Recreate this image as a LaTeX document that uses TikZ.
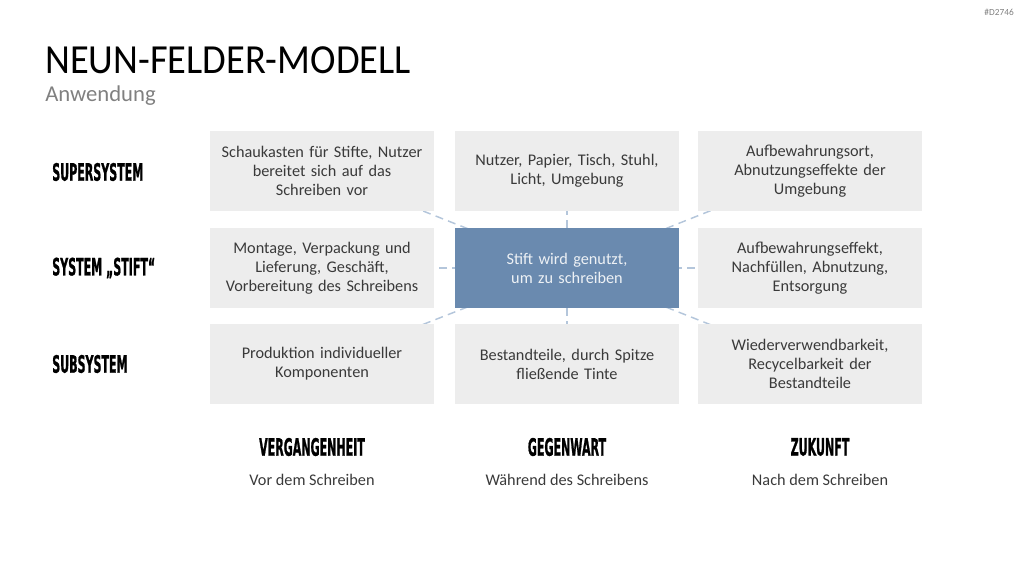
\documentclass[tikz,border=0pt]{standalone}
\usepackage{fontspec}
\setmainfont{Carlito}
\newfontfamily\titlefont[FakeStretch=0.93]{Carlito}
\newfontfamily\headfont[FakeStretch=0.46,FakeBold=0.8]{DejaVu Sans}
\usepackage{xcolor}
\usetikzlibrary{positioning,backgrounds}

\definecolor{boxgray}{HTML}{EDEDED}
\definecolor{stiftblue}{HTML}{6A8AAF}
\definecolor{linkblue}{HTML}{B4C6DB}
\definecolor{bodytext}{HTML}{3A3A3A}
\definecolor{subgray}{HTML}{808080}

\begin{document}
\begin{tikzpicture}[
		x=0.75pt, y=-0.75pt,
		field/.style={fill=boxgray, minimum width=168pt, minimum height=60pt, inner sep=0pt, text width=162pt, align=center, text=bodytext, font=\fontsize{12.2}{14.3}\selectfont},
		stiftfield/.style={field, fill=stiftblue, text=white!88!stiftblue},
		rowlabel/.style={anchor=west, inner sep=0pt, font=\headfont\bfseries\fontsize{18}{20}\selectfont},
		collabel/.style={font=\headfont\bfseries\fontsize{18}{20}\selectfont},
		colsub/.style={font=\fontsize{12.2}{14.3}\selectfont, text=bodytext},
		link/.style={linkblue, line width=1.1pt, dash pattern=on 6pt off 4pt}
		]
		\useasboundingbox (0,0) rectangle (1024,576);
		
		% Title
		\node[anchor=base west, inner sep=0pt, font=\titlefont\fontsize{31}{36}\selectfont] (title) at (45,73) {NEUN-FELDER-MODELL};
		\node[anchor=base west, inner sep=0pt, text=subgray, font=\fontsize{17}{20}\selectfont] (subtitle) at (45,101) {Anwendung};
		\node[anchor=north east, inner sep=0pt, text=subgray, font=\fontsize{7}{8}\selectfont] (code) at (1014,9) {\#D2746};
		
		% Row labels
		\node[rowlabel] (lsup) at (52,172) {SUPERSYSTEM};
		\node[rowlabel] (lsys) at (52,268) {SYSTEM „STIFT“};
		\node[rowlabel] (lsub) at (52,364) {SUBSYSTEM};
		
		% Supersystem
		\node[field] (sup1) at (322,171) {Schaukasten für Stifte, Nutzer\\bereitet sich auf das\\Schreiben vor};
		\node[field] (sup2) at (567,171) {Nutzer, Papier, Tisch, Stuhl,\\Licht, Umgebung};
		\node[field] (sup3) at (810,171) {Aufbewahrungsort,\\Abnutzungseffekte der\\Umgebung};
		
		% System
		\node[field] (sys1) at (322,268) {Montage, Verpackung und\\Lieferung, Geschäft,\\Vorbereitung des Schreibens};
		\node[stiftfield] (sys2) at (567,268) {Stift wird genutzt,\\um zu schreiben};
		\node[field] (sys3) at (810,268) {Aufbewahrungseffekt,\\Nachfüllen, Abnutzung,\\Entsorgung};
		
		% Subsystem
		\node[field] (sub1) at (322,364) {Produktion individueller\\Komponenten};
		\node[field] (sub2) at (567,364) {Bestandteile, durch Spitze\\fließende Tinte};
		\node[field] (sub3) at (810,364) {Wiederverwendbarkeit,\\Recycelbarkeit der\\Bestandteile};
		
		% Links from the centre field
		\begin{scope}[on background layer]
			\foreach \f in {sup1,sup2,sup3,sys1,sys3,sub1,sub2,sub3}
			\draw[link] (sys2.center) -- (\f.center);
		\end{scope}
		
		% Column labels
		\node[collabel] (past) at (312,447) {VERGANGENHEIT};
		\node[collabel] (now) at (567,447) {GEGENWART};
		\node[collabel] (future) at (820,447) {ZUKUNFT};
		\node[colsub] (pastsub) at (312,480) {Vor dem Schreiben};
		\node[colsub] (nowsub) at (567,480) {Während des Schreibens};
		\node[colsub] (futuresub) at (820,480) {Nach dem Schreiben};
		
	\end{tikzpicture}
\end{document}
